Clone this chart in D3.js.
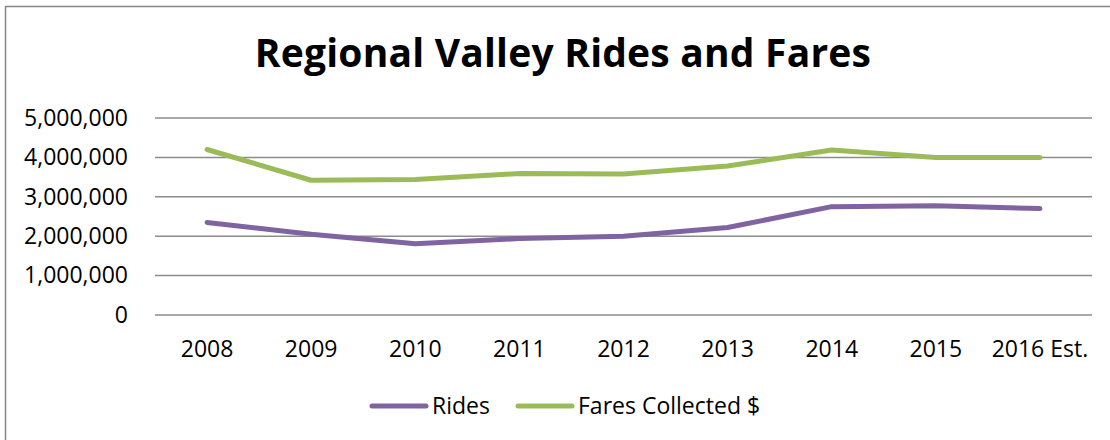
<!DOCTYPE html>
<meta charset="utf-8">
<script src="https://d3js.org/d3.v7.min.js"></script>
<style>
  body { margin: 0; background: #fff; }
  text { font-family: "Open Sans", sans-serif; fill: #000; }
</style>
<div id="my_dataviz"></div>
<script>
  // data
  var years = ["2008", "2009", "2010", "2011", "2012", "2013", "2014", "2015", "2016 Est."];
  var rides = [2350000, 2050000, 1810000, 1940000, 2000000, 2220000, 2750000, 2770000, 2700000];
  var fares = [4200000, 3420000, 3440000, 3590000, 3580000, 3780000, 4190000, 4000000, 4000000];
  var yTicks = [0, 1000000, 2000000, 3000000, 4000000, 5000000];

  var W = 1110, H = 440;
  var margin = {top: 118, left: 155},
      width = 1092 - margin.left,
      height = 315 - margin.top;

  var root = d3.select("#my_dataviz")
    .append("svg")
      .attr("width", W)
      .attr("height", H);

  // chart frame (right and bottom edges fall outside the picture)
  root.append("rect")
    .attr("x", 5.5).attr("y", 6.5)
    .attr("width", W + 10).attr("height", H + 10)
    .attr("fill", "none")
    .attr("stroke", "#868686")
    .attr("stroke-width", 1.5);

  root.append("text")
    .attr("x", 563).attr("y", 67)
    .attr("text-anchor", "middle")
    .style("font-size", "39px")
    .style("font-weight", "bold")
    .style("letter-spacing", "0.2px")
    .text("Regional Valley Rides and Fares");

  var svg = root.append("g")
    .attr("transform", "translate(" + margin.left + "," + margin.top + ")");

  var x = d3.scaleBand()
    .domain(years)
    .range([0, width]);

  var y = d3.scaleLinear()
    .domain([0, 5000000])
    .range([height, 0]);

  // gridlines
  svg.append("g")
    .selectAll("line")
    .data(yTicks)
    .enter()
    .append("line")
      .attr("x1", 0).attr("x2", width)
      .attr("y1", function(d){ return y(d); })
      .attr("y2", function(d){ return y(d); })
      .attr("stroke", "#8c8c8c")
      .attr("stroke-width", 1.5);

  // y axis labels
  var yAxis = svg.append("g")
    .call(d3.axisLeft(y).tickValues(yTicks).tickFormat(d3.format(",")).tickSize(0).tickPadding(27));
  yAxis.select(".domain").remove();
  yAxis.selectAll("text").style("font-size", "23px").style("font-family", "'Open Sans', sans-serif").attr("fill", "#000");

  // x axis labels
  var xAxis = svg.append("g")
    .attr("transform", "translate(0," + height + ")")
    .call(d3.axisBottom(x).tickSize(0).tickPadding(26));
  xAxis.select(".domain").remove();
  xAxis.selectAll("text").style("font-size", "23px").style("font-family", "'Open Sans', sans-serif").attr("fill", "#000");

  var line = function(vals) {
    return d3.line()
      .x(function(d, i){ return x(years[i]) + x.bandwidth() / 2; })
      .y(function(d){ return y(d); })(vals);
  };

  var series = [
    {name: "Rides", values: rides, color: "#8064a2"},
    {name: "Fares Collected $", values: fares, color: "#9bbb59"}
  ];

  svg.selectAll(".series")
    .data(series)
    .enter()
    .append("path")
      .attr("class", "series")
      .attr("d", function(d){ return line(d.values); })
      .attr("fill", "none")
      .attr("stroke", function(d){ return d.color; })
      .attr("stroke-width", 5)
      .attr("stroke-linecap", "round")
      .attr("stroke-linejoin", "round");

  // legend
  var legendX = [372, 518];
  var legend = root.selectAll(".legend")
    .data(series)
    .enter()
    .append("g")
      .attr("class", "legend")
      .attr("transform", function(d, i){ return "translate(" + legendX[i] + ",406)"; });
  legend.append("line")
    .attr("x1", 0).attr("x2", 54)
    .attr("stroke", function(d){ return d.color; })
    .attr("stroke-width", 5)
    .attr("stroke-linecap", "round");
  legend.append("text")
    .attr("x", 60)
    .attr("y", 8)
    .style("font-size", "23px")
    .text(function(d){ return d.name; });
</script>
